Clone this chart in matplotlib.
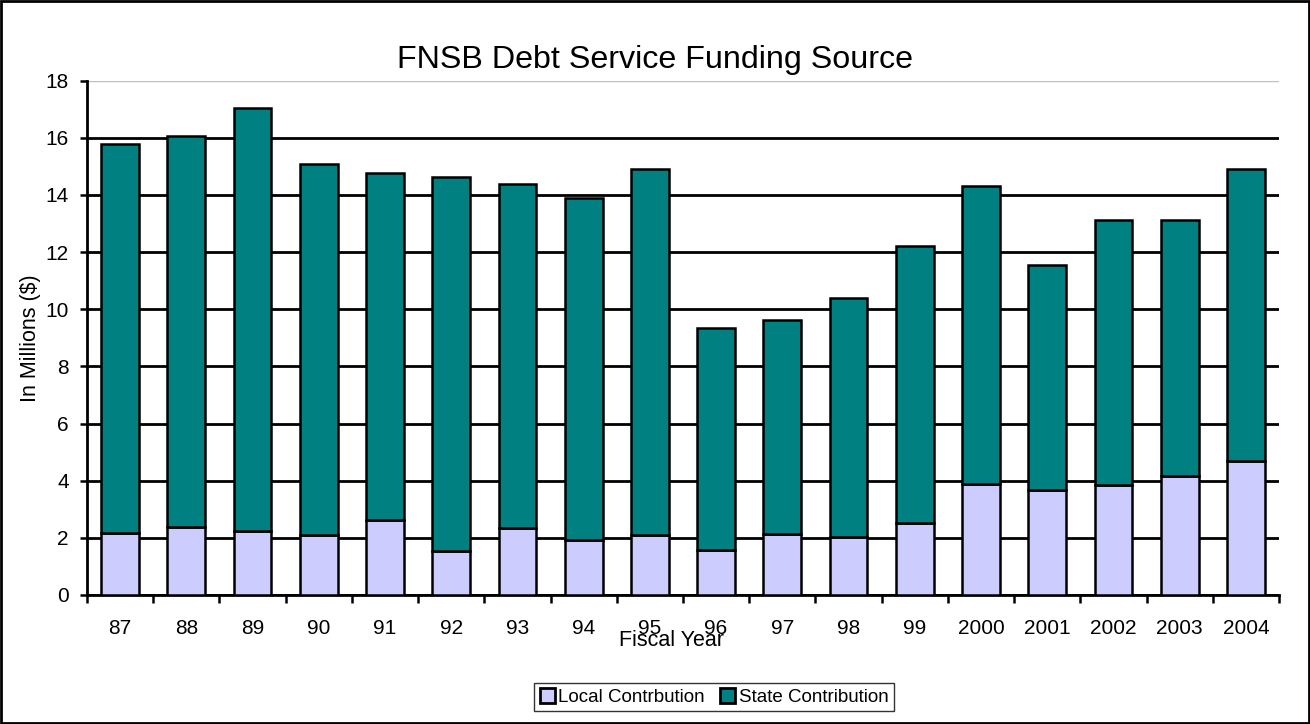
import matplotlib.pyplot as plt
import matplotlib.patches as mpatches
import numpy as np

plt.rcParams['font.family'] = ['Liberation Sans', 'DejaVu Sans']

years = ['87', '88', '89', '90', '91', '92', '93', '94', '95', '96', '97', '98', '99',
         '2000', '2001', '2002', '2003', '2004']
local = [2.16, 2.38, 2.23, 2.10, 2.63, 1.53, 2.33, 1.92, 2.10, 1.58, 2.12, 2.03, 2.53,
         3.89, 3.67, 3.86, 4.15, 4.70]
total = [15.80, 16.06, 17.05, 15.10, 14.77, 14.62, 14.38, 13.89, 14.92, 9.34, 9.61, 10.39,
         12.22, 14.30, 11.56, 13.12, 13.12, 14.91]
state = [t - l for t, l in zip(total, local)]

fig = plt.figure(figsize=(13.1, 7.24), dpi=100)
ax = fig.add_axes([87 / 1310, 1 - 595 / 724, 1192 / 1310, 514.3 / 724])

x = np.arange(len(years))
ax.bar(x, local, width=0.57, color='#CCCCFF', edgecolor='black', linewidth=1.8,
       label='Local Contrbution', zorder=3)
ax.bar(x, state, width=0.57, bottom=local, color='#008080', edgecolor='black',
       linewidth=1.8, label='State Contribution', zorder=3)

ax.set_xlim(-0.5, len(years) - 0.5)
ax.set_ylim(0, 18)
ax.set_yticks(range(0, 19, 2))
ax.set_xticks(x)
ax.set_xticklabels(years)
ax.set_xticks(np.arange(-0.5, len(years), 1), minor=True)
ax.tick_params(axis='x', which='major', length=0, pad=17, labelsize=15)
ax.tick_params(axis='x', which='minor', length=6, width=1.8, direction='out')
ax.tick_params(axis='y', length=5, width=1.8, pad=8, labelsize=15)

ax.grid(axis='y', color='black', linewidth=2, zorder=1)
ax.set_axisbelow(True)
ax.get_ygridlines()[-1].set_color('#c0c0c0')
ax.get_ygridlines()[-1].set_linewidth(1)

for side in ['top', 'right']:
    ax.spines[side].set_visible(False)
ax.spines['left'].set_linewidth(2)
ax.spines['bottom'].set_linewidth(2)

ax.set_ylabel('In Millions ($)', fontsize=15.5)
ax.yaxis.set_label_coords(-0.039, 0.5)
ax.set_xlabel('Fiscal Year', fontsize=15.5)
ax.xaxis.set_label_coords(0.49, -0.068)

fig.text(0.5, 1 - 67.7 / 724, 'FNSB Debt Service Funding Source', fontsize=23.2,
         ha='center', va='baseline')

leg = fig.legend(loc='center', bbox_to_anchor=(714 / 1310, 1 - 697 / 724), ncol=2,
                 fontsize=13.5, frameon=True, fancybox=False, handlelength=0.8,
                 handleheight=0.8, handletextpad=0.2, columnspacing=0.8,
                 borderpad=0.3, borderaxespad=0)
leg.get_frame().set_edgecolor('black')
leg.get_frame().set_linewidth(1)
for h in leg.legend_handles:
    h.set_linewidth(2)

fig.patches.append(mpatches.Rectangle((0.001, 0.001), 0.998, 0.998, transform=fig.transFigure,
                                      fill=False, edgecolor='black', linewidth=2))

fig.savefig('out.png', dpi=100)
